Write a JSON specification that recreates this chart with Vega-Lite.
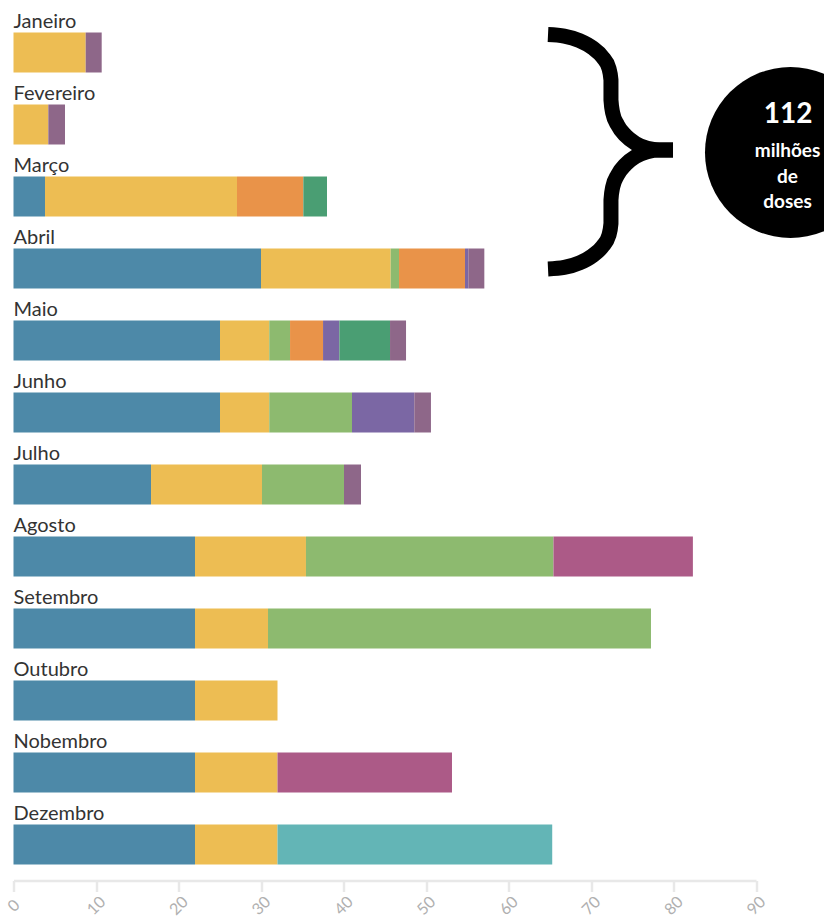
{
  "$schema": "https://vega.github.io/schema/vega-lite/v6.json",
  "width": 742.5,
  "height": 864,
  "autosize": "none",
  "padding": {"left": 13.5, "top": 0.5, "right": 68, "bottom": 53.5},
  "background": "white",
  "config": {"view": {"stroke": null}},
  "datasets": {
    "doses": [
      {"mes": "Janeiro", "vacina": "Butantan/CoronaVac", "ordem": 2, "doses": 8.75},
      {"mes": "Janeiro", "vacina": "AstraZeneca/Serum", "ordem": 7, "doses": 1.94},
      {"mes": "Fevereiro", "vacina": "Butantan/CoronaVac", "ordem": 2, "doses": 4.22},
      {"mes": "Fevereiro", "vacina": "AstraZeneca/Serum", "ordem": 7, "doses": 2.02},
      {"mes": "Março", "vacina": "Fiocruz/AstraZeneca", "ordem": 1, "doses": 3.82},
      {"mes": "Março", "vacina": "Butantan/CoronaVac", "ordem": 2, "doses": 23.27},
      {"mes": "Março", "vacina": "Covax Facility", "ordem": 4, "doses": 8.04},
      {"mes": "Março", "vacina": "Sputnik V", "ordem": 6, "doses": 2.87},
      {"mes": "Abril", "vacina": "Fiocruz/AstraZeneca", "ordem": 1, "doses": 30.0},
      {"mes": "Abril", "vacina": "Butantan/CoronaVac", "ordem": 2, "doses": 15.72},
      {"mes": "Abril", "vacina": "Pfizer", "ordem": 3, "doses": 1.01},
      {"mes": "Abril", "vacina": "Covax Facility", "ordem": 4, "doses": 8.0},
      {"mes": "Abril", "vacina": "Janssen", "ordem": 5, "doses": 0.4},
      {"mes": "Abril", "vacina": "AstraZeneca/Serum", "ordem": 7, "doses": 1.94},
      {"mes": "Maio", "vacina": "Fiocruz/AstraZeneca", "ordem": 1, "doses": 25.03},
      {"mes": "Maio", "vacina": "Butantan/CoronaVac", "ordem": 2, "doses": 5.97},
      {"mes": "Maio", "vacina": "Pfizer", "ordem": 3, "doses": 2.52},
      {"mes": "Maio", "vacina": "Covax Facility", "ordem": 4, "doses": 4.0},
      {"mes": "Maio", "vacina": "Janssen", "ordem": 5, "doses": 1.98},
      {"mes": "Maio", "vacina": "Sputnik V", "ordem": 6, "doses": 6.14},
      {"mes": "Maio", "vacina": "AstraZeneca/Serum", "ordem": 7, "doses": 1.94},
      {"mes": "Junho", "vacina": "Fiocruz/AstraZeneca", "ordem": 1, "doses": 25.03},
      {"mes": "Junho", "vacina": "Butantan/CoronaVac", "ordem": 2, "doses": 5.97},
      {"mes": "Junho", "vacina": "Pfizer", "ordem": 3, "doses": 10.03},
      {"mes": "Junho", "vacina": "Janssen", "ordem": 5, "doses": 7.55},
      {"mes": "Junho", "vacina": "AstraZeneca/Serum", "ordem": 7, "doses": 2.02},
      {"mes": "Julho", "vacina": "Fiocruz/AstraZeneca", "ordem": 1, "doses": 16.67},
      {"mes": "Julho", "vacina": "Butantan/CoronaVac", "ordem": 2, "doses": 13.45},
      {"mes": "Julho", "vacina": "Pfizer", "ordem": 3, "doses": 9.94},
      {"mes": "Julho", "vacina": "AstraZeneca/Serum", "ordem": 7, "doses": 2.06},
      {"mes": "Agosto", "vacina": "Fiocruz/AstraZeneca", "ordem": 1, "doses": 22.0},
      {"mes": "Agosto", "vacina": "Butantan/CoronaVac", "ordem": 2, "doses": 13.45},
      {"mes": "Agosto", "vacina": "Pfizer", "ordem": 3, "doses": 30.0},
      {"mes": "Agosto", "vacina": "Moderna", "ordem": 8, "doses": 16.9},
      {"mes": "Setembro", "vacina": "Fiocruz/AstraZeneca", "ordem": 1, "doses": 22.0},
      {"mes": "Setembro", "vacina": "Butantan/CoronaVac", "ordem": 2, "doses": 8.85},
      {"mes": "Setembro", "vacina": "Pfizer", "ordem": 3, "doses": 46.42},
      {"mes": "Outubro", "vacina": "Fiocruz/AstraZeneca", "ordem": 1, "doses": 22.0},
      {"mes": "Outubro", "vacina": "Butantan/CoronaVac", "ordem": 2, "doses": 10.0},
      {"mes": "Nobembro", "vacina": "Fiocruz/AstraZeneca", "ordem": 1, "doses": 22.0},
      {"mes": "Nobembro", "vacina": "Butantan/CoronaVac", "ordem": 2, "doses": 10.0},
      {"mes": "Nobembro", "vacina": "Moderna", "ordem": 8, "doses": 21.15},
      {"mes": "Dezembro", "vacina": "Fiocruz/AstraZeneca", "ordem": 1, "doses": 22.0},
      {"mes": "Dezembro", "vacina": "Butantan/CoronaVac", "ordem": 2, "doses": 10.0},
      {"mes": "Dezembro", "vacina": "Fiocruz (IFA nacional)", "ordem": 9, "doses": 33.3}
    ],
    "meses": [
      {"mes": "Janeiro"}, {"mes": "Fevereiro"}, {"mes": "Março"}, {"mes": "Abril"},
      {"mes": "Maio"}, {"mes": "Junho"}, {"mes": "Julho"}, {"mes": "Agosto"},
      {"mes": "Setembro"}, {"mes": "Outubro"}, {"mes": "Nobembro"}, {"mes": "Dezembro"}
    ],
    "chave": [
      {"parte": "cima", "i": 1, "bx": 64.79, "by": 0.4722},
      {"parte": "cima", "i": 2, "bx": 66.76, "by": 0.4938},
      {"parte": "cima", "i": 3, "bx": 68.61, "by": 0.5569},
      {"parte": "cima", "i": 4, "bx": 70.18, "by": 0.6569},
      {"parte": "cima", "i": 5, "bx": 71.41, "by": 0.7882},
      {"parte": "cima", "i": 6, "bx": 72.17, "by": 0.9403},
      {"parte": "cima", "i": 7, "bx": 72.42, "by": 1.1042},
      {"parte": "cima", "i": 8, "bx": 72.42, "by": 1.3819},
      {"parte": "cima", "i": 9, "bx": 72.63, "by": 1.5611},
      {"parte": "cima", "i": 10, "bx": 73.22, "by": 1.7292},
      {"parte": "cima", "i": 11, "bx": 74.17, "by": 1.8736},
      {"parte": "cima", "i": 12, "bx": 75.39, "by": 1.9833},
      {"parte": "cima", "i": 13, "bx": 76.82, "by": 2.0528},
      {"parte": "cima", "i": 14, "bx": 78.36, "by": 2.0764},
      {"parte": "cima", "i": 15, "bx": 79.94, "by": 2.0764},
      {"parte": "baixo", "i": 1, "bx": 79.94, "by": 2.0764},
      {"parte": "baixo", "i": 2, "bx": 78.36, "by": 2.0764},
      {"parte": "baixo", "i": 3, "bx": 76.82, "by": 2.1000},
      {"parte": "baixo", "i": 4, "bx": 75.39, "by": 2.1694},
      {"parte": "baixo", "i": 5, "bx": 74.17, "by": 2.2792},
      {"parte": "baixo", "i": 6, "bx": 73.22, "by": 2.4236},
      {"parte": "baixo", "i": 7, "bx": 72.63, "by": 2.5917},
      {"parte": "baixo", "i": 8, "bx": 72.42, "by": 2.7708},
      {"parte": "baixo", "i": 9, "bx": 72.42, "by": 3.0972},
      {"parte": "baixo", "i": 10, "bx": 72.17, "by": 3.2611},
      {"parte": "baixo", "i": 11, "bx": 71.41, "by": 3.4132},
      {"parte": "baixo", "i": 12, "bx": 70.18, "by": 3.5444},
      {"parte": "baixo", "i": 13, "bx": 68.61, "by": 3.6444},
      {"parte": "baixo", "i": 14, "bx": 66.76, "by": 3.7076},
      {"parte": "baixo", "i": 15, "bx": 64.79, "by": 3.7292}
    ],
    "circulo": [{"cx": 94.18, "cy": 2.111}],
    "numero": [{"t": "112", "tx": 93.88, "ty": 1.701}],
    "legenda": [
      {"t": "milhões", "tx": 93.82, "ty": 2.174},
      {"t": "de", "tx": 93.82, "ty": 2.535},
      {"t": "doses", "tx": 93.82, "ty": 2.882}
    ]
  },
  "layer": [
    {
      "data": {"name": "doses"},
      "mark": {"type": "bar", "height": 40, "yOffset": 16},
      "encoding": {
        "y": {
          "field": "mes", "type": "nominal",
          "sort": ["Janeiro", "Fevereiro", "Março", "Abril", "Maio", "Junho", "Julho", "Agosto", "Setembro", "Outubro", "Nobembro", "Dezembro"],
          "scale": {"paddingInner": 0, "paddingOuter": 0},
          "axis": null
        },
        "x": {
          "field": "doses", "type": "quantitative", "stack": "zero",
          "scale": {"domain": [0, 90], "nice": false},
          "axis": {
            "values": [0, 10, 20, 30, 40, 50, 60, 70, 80, 90],
            "title": null, "grid": false, "offset": 16,
            "domainColor": "#e8e8e8", "domainWidth": 2.5,
            "tickColor": "#e8e8e8", "tickWidth": 2.5, "tickSize": 11,
            "labelAngle": -45, "labelAlign": "center", "labelBaseline": "middle",
            "labelPadding": 14, "labelColor": "#b0b0b0", "labelFontSize": 16,
            "labelFont": "Lato"
          }
        },
        "color": {
          "field": "vacina", "type": "nominal", "legend": null,
          "scale": {
            "domain": ["Fiocruz/AstraZeneca", "Butantan/CoronaVac", "Pfizer", "Covax Facility", "Janssen", "Sputnik V", "AstraZeneca/Serum", "Moderna", "Fiocruz (IFA nacional)"],
            "range": ["#4d89a8", "#edbd53", "#8dba6f", "#e99349", "#7b67a4", "#4a9e73", "#8e6789", "#ac5a87", "#63b5b6"]
          }
        },
        "order": {"field": "ordem", "type": "quantitative"}
      }
    },
    {
      "data": {"name": "meses"},
      "mark": {"type": "text", "align": "left", "baseline": "alphabetic", "dy": -8.2, "font": "Lato", "fontSize": 20, "color": "#333333"},
      "encoding": {
        "y": {
          "field": "mes", "type": "nominal",
          "sort": ["Janeiro", "Fevereiro", "Março", "Abril", "Maio", "Junho", "Julho", "Agosto", "Setembro", "Outubro", "Nobembro", "Dezembro"],
          "scale": {"paddingInner": 0, "paddingOuter": 0},
          "axis": null
        },
        "x": {"datum": 0, "type": "quantitative", "scale": {"domain": [0, 90], "nice": false}},
        "text": {"field": "mes"}
      }
    },
    {
      "data": {"name": "chave"},
      "mark": {"type": "line", "color": "black", "strokeWidth": 15, "strokeCap": "butt", "strokeJoin": "round", "interpolate": "monotone"},
      "encoding": {
        "x": {"field": "bx", "type": "quantitative", "scale": {"domain": [0, 90], "nice": false}},
        "y": {"field": "by", "type": "quantitative", "scale": {"domain": [0, 12], "nice": false, "zero": false, "reverse": true}, "axis": null},
        "detail": {"field": "parte"},
        "order": {"field": "i", "type": "quantitative"}
      }
    },
    {
      "data": {"name": "circulo"},
      "mark": {"type": "point", "shape": "circle", "filled": true, "color": "black", "opacity": 1, "size": 29241},
      "encoding": {
        "x": {"field": "cx", "type": "quantitative", "scale": {"domain": [0, 90], "nice": false}},
        "y": {"field": "cy", "type": "quantitative", "scale": {"domain": [0, 12], "nice": false, "zero": false, "reverse": true}, "axis": null}
      }
    },
    {
      "data": {"name": "numero"},
      "mark": {"type": "text", "align": "center", "baseline": "alphabetic", "font": "Lato", "fontWeight": "bold", "fontSize": 28, "color": "white"},
      "encoding": {
        "x": {"field": "tx", "type": "quantitative", "scale": {"domain": [0, 90], "nice": false}},
        "y": {"field": "ty", "type": "quantitative", "scale": {"domain": [0, 12], "nice": false, "zero": false, "reverse": true}, "axis": null},
        "text": {"field": "t"}
      }
    },
    {
      "data": {"name": "legenda"},
      "mark": {"type": "text", "align": "center", "baseline": "alphabetic", "font": "Lato", "fontWeight": "bold", "fontSize": 19, "color": "white"},
      "encoding": {
        "x": {"field": "tx", "type": "quantitative", "scale": {"domain": [0, 90], "nice": false}},
        "y": {"field": "ty", "type": "quantitative", "scale": {"domain": [0, 12], "nice": false, "zero": false, "reverse": true}, "axis": null},
        "text": {"field": "t"}
      }
    }
  ],
  "resolve": {"scale": {"y": "independent"}}
}
